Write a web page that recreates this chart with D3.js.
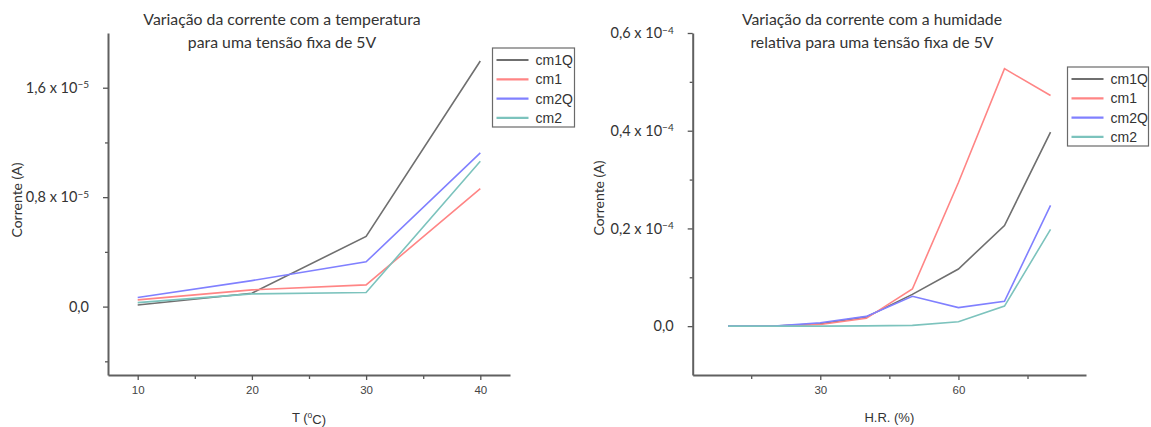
<!DOCTYPE html>
<html>
<head>
<meta charset="utf-8">
<script src="https://cdn.jsdelivr.net/npm/d3@7"></script>
<style>
  body { margin: 0; background: #ffffff; }
  svg { display: block; }
</style>
</head>
<body>
<svg id="chart" width="1151" height="427"></svg>
<script>
// ---------- DATA ----------
const seriesNames = ["cm1Q", "cm1", "cm2Q", "cm2"];
const seriesColors = ["#6f6f6f", "#ff8585", "#8080ff", "#7cc3bd"];

// Left chart: current vs temperature
const tempX = [10, 20, 30, 40];
const tempCm1Q = [0.012e-5, 0.098e-5, 0.513e-5, 1.795e-5];
const tempCm1  = [0.049e-5, 0.122e-5, 0.159e-5, 0.862e-5];
const tempCm2Q = [0.066e-5, 0.190e-5, 0.327e-5, 1.124e-5];
const tempCm2  = [0.029e-5, 0.093e-5, 0.103e-5, 1.062e-5];
const tempXTicks = [10, 20, 30, 40];
const tempXMinorTicks = [15, 25, 35];
const tempYTicks = [0, 0.8e-5, 1.6e-5];
const tempYTickMantissas = ["0,0", "0,8 x 10", "1,6 x 10"];
const tempYTickExponents = ["", "\u22125", "\u22125"];
const tempYMinorTicks = [-0.4e-5, 0.4e-5, 1.2e-5];

// Right chart: current vs relative humidity
const hrX = [10, 20, 30, 40, 50, 60, 70, 80];
const hrCm1Q = [0, 0, 0.005e-4, 0.019e-4, 0.065e-4, 0.117e-4, 0.206e-4, 0.397e-4];
const hrCm1  = [0, 0, 0.0035e-4, 0.016e-4, 0.076e-4, 0.294e-4, 0.527e-4, 0.472e-4];
const hrCm2Q = [0, 0, 0.007e-4, 0.020e-4, 0.061e-4, 0.038e-4, 0.051e-4, 0.247e-4];
const hrCm2  = [0, 0, 0, 0.0005e-4, 0.0015e-4, 0.009e-4, 0.041e-4, 0.198e-4];
const hrXTicks = [30, 60];
const hrXMinorTicks = [15, 45, 75];
const hrYTicks = [0, 0.2e-4, 0.4e-4, 0.6e-4];
const hrYTickMantissas = ["0,0", "0,2 x 10", "0,4 x 10", "0,6 x 10"];
const hrYTickExponents = ["", "\u22124", "\u22124", "\u22124"];
const hrYMinorTicks = [0.1e-4, 0.3e-4, 0.5e-4];

// ---------- DRAW ----------
const svg = d3.select("#chart");

function drawChart(cfg) {
  const g = svg.append("g");
  const x = d3.scaleLinear().domain(cfg.xDomain).range(cfg.xRange);
  const y = d3.scaleLinear().domain(cfg.yDomain).range(cfg.yRange);

  // Titles
  const title = g.append("text")
    .attr("x", cfg.titleX).attr("y", 25)
    .attr("text-anchor", "middle")
    .style("font-family", "Lato, 'Open Sans', sans-serif")
    .style("font-size", "15.8px")
    .style("fill", "#333");
  title.append("tspan").attr("x", cfg.titleX).attr("dy", 0).text(cfg.title[0]);
  title.append("tspan").attr("x", cfg.titleX).attr("dy", 23).text(cfg.title[1]);

  // Lines
  const line = d3.line().x(d => x(d[0])).y(d => y(d[1]));
  cfg.series.forEach((vals, i) => {
    g.append("path")
      .datum(cfg.xs.map((xv, j) => [xv, vals[j]]))
      .attr("fill", "none")
      .attr("stroke", seriesColors[i])
      .attr("stroke-width", 1.6)
      .attr("d", line);
  });

  // Minor ticks
  g.append("g")
    .attr("transform", `translate(0,${cfg.yRange[0]})`)
    .call(d3.axisBottom(x).tickValues(cfg.xMinor).tickSize(4).tickSizeOuter(0).tickFormat(""))
    .call(a => a.select(".domain").remove())
    .call(a => a.selectAll("line").attr("stroke", "#555").attr("stroke-width", 1.3));
  g.append("g")
    .attr("transform", `translate(${cfg.xRange[0]},0)`)
    .call(d3.axisLeft(y).tickValues(cfg.yMinor).tickSize(3).tickSizeOuter(0).tickFormat(""))
    .call(a => a.select(".domain").remove())
    .call(a => a.selectAll("line").attr("stroke", "#555").attr("stroke-width", 1.3));

  // X axis
  const xAxis = g.append("g")
    .attr("transform", `translate(0,${cfg.yRange[0]})`)
    .call(d3.axisBottom(x).tickValues(cfg.xTicks).tickSize(5).tickSizeOuter(0).tickPadding(6));
  xAxis.select(".domain").attr("stroke", "#606060").attr("stroke-width", 2);
  xAxis.selectAll(".tick line").attr("stroke", "#555").attr("stroke-width", 1.3);
  xAxis.selectAll(".tick text")
    .style("font-family", "'Liberation Sans', Arial, sans-serif")
    .style("font-size", "11.5px")
    .style("fill", "#444");

  // Y axis
  const yAxis = g.append("g")
    .attr("transform", `translate(${cfg.xRange[0]},0)`)
    .call(d3.axisLeft(y).tickValues(cfg.yTicks).tickSize(5).tickSizeOuter(0).tickPadding(14)
      .tickFormat(() => ""));
  yAxis.select(".domain").attr("stroke", "#606060").attr("stroke-width", 2);
  yAxis.selectAll(".tick line").attr("stroke", "#555").attr("stroke-width", 1.3);
  yAxis.selectAll(".tick text").each(function(d, i) {
    const t = d3.select(this)
      .style("font-family", "Lato, 'Open Sans', sans-serif")
      .style("font-size", "14.5px")
      .style("fill", "#333");
    t.append("tspan").text(cfg.yMant[i]);
    if (cfg.yExp[i]) {
      t.append("tspan").attr("dy", "-0.45em").style("font-size", "10px").text(cfg.yExp[i]);
    }
  });

  // Axis titles
  const xt = g.append("text")
    .attr("x", (cfg.xRange[0] + cfg.xRange[1]) / 2)
    .attr("y", 422)
    .attr("text-anchor", "middle")
    .style("font-family", "'Liberation Sans', Arial, sans-serif")
    .style("font-size", "13px")
    .style("fill", "#333");
  cfg.xTitle(xt);

  g.append("text")
    .attr("transform", `translate(${cfg.yTitleX},${cfg.yTitleY}) rotate(-90)`)
    .attr("text-anchor", "middle")
    .style("font-family", "Lato, 'Open Sans', sans-serif")
    .style("font-size", "14px")
    .style("fill", "#333")
    .text("Corrente (A)");

  // Legend
  const lg = g.append("g");
  lg.append("rect")
    .attr("x", cfg.legend.x).attr("y", cfg.legend.y)
    .attr("width", cfg.legend.w).attr("height", cfg.legend.h)
    .attr("fill", "#fff").attr("stroke", "#6a6a6a").attr("stroke-width", 1.2);
  seriesNames.forEach((name, i) => {
    const yy = cfg.legend.y + 12 + i * 19.3;
    lg.append("line")
      .attr("x1", cfg.legend.x + 4).attr("x2", cfg.legend.x + 36)
      .attr("y1", yy).attr("y2", yy)
      .attr("stroke", seriesColors[i]).attr("stroke-width", 2.2);
    lg.append("text")
      .attr("x", cfg.legend.x + 43).attr("y", yy + 5)
      .style("font-family", "'Liberation Sans', Arial, sans-serif")
      .style("font-size", "14px")
      .style("fill", "#333")
      .text(name);
  });
}

drawChart({
  id: "T",
  xDomain: [7.4, 42.6], xRange: [108, 510],
  yDomain: [-0.5e-5, 2.0e-5], yRange: [375, 33],
  xs: tempX,
  series: [tempCm1Q, tempCm1, tempCm2Q, tempCm2],
  xTicks: tempXTicks, xMinor: tempXMinorTicks,
  yTicks: tempYTicks, yMinor: tempYMinorTicks,
  yMant: tempYTickMantissas, yExp: tempYTickExponents,
  title: ["Variação da corrente com a temperatura", "para uma tensão fixa de 5V"],
  titleX: 282,
  xTitle: t => {
    t.append("tspan").text("T (");
    t.append("tspan").attr("dy", "-0.45em").style("font-size", "8.5px").text("o");
    t.append("tspan").attr("dy", "0.45em").text("C)");
  },
  yTitleX: 22, yTitleY: 200,
  legend: { x: 492.5, y: 48, w: 82, h: 79 }
});

drawChart({
  id: "HR",
  xDomain: [2.3, 87.7], xRange: [692.7, 1086],
  yDomain: [-0.1e-4, 0.6e-4], yRange: [375, 33],
  xs: hrX,
  series: [hrCm1Q, hrCm1, hrCm2Q, hrCm2],
  xTicks: hrXTicks, xMinor: hrXMinorTicks,
  yTicks: hrYTicks, yMinor: hrYMinorTicks,
  yMant: hrYTickMantissas, yExp: hrYTickExponents,
  title: ["Variação da corrente com a humidade", "relativa para uma tensão fixa de 5V"],
  titleX: 872,
  xTitle: t => { t.text("H.R. (%)"); },
  yTitleX: 604, yTitleY: 198,
  legend: { x: 1067.5, y: 67, w: 81, h: 79 }
});
</script>
</body>
</html>
